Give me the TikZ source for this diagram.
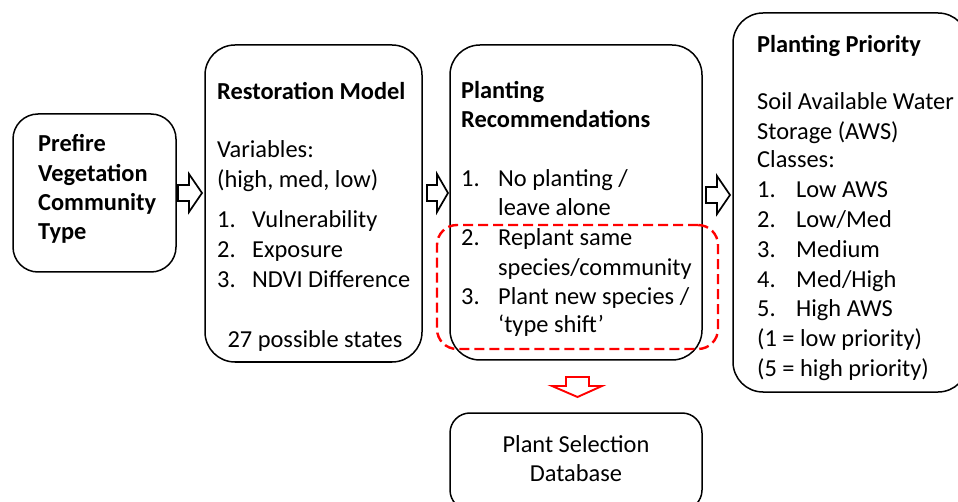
\documentclass[tikz,border=0pt]{standalone}
\usepackage{fontspec}
\setmainfont{Carlito}
\begin{document}
\begin{tikzpicture}[x=1pt,y=-1pt,
  box/.style={draw=black, line width=1.5pt, rounded corners=#1, inner sep=0pt},
  dbox/.style={draw=red, line width=2.4pt, dash pattern=on 10pt off 5pt, rounded corners=#1, inner sep=0pt},
  t/.style={anchor=base west, inner sep=0pt, font=\fontsize{24.4}{29.5}\selectfont},
  tc/.style={anchor=base, inner sep=0pt, font=\fontsize{24.4}{29.5}\selectfont},
  tb/.style={anchor=base west, inner sep=0pt, font=\fontsize{24.4}{29.5}\selectfont\bfseries},
  blk/.style={draw=black, line width=1.7pt, fill=white, line join=miter},
  rblk/.style={draw=red, line width=1.9pt, fill=white, line join=miter}]
\useasboundingbox (0,0) rectangle (958,502);
\fill[white] (0,0) rectangle (958,502);

% boxes
\node[box=25pt, minimum width=163pt, minimum height=158pt] (b1) at (94.5,193) {};
\node[box=30pt, minimum width=217pt, minimum height=317pt] (b2) at (313.5,203.5) {};
\node[box=30pt, minimum width=252pt, minimum height=315pt] (b3) at (576,202.5) {};
\node[box=30pt, minimum width=235pt, minimum height=379pt] (b4) at (850.5,202.5) {};
\node[box=20pt, minimum width=252pt, minimum height=97pt] (b5) at (576,461.5) {};
\node[dbox=20pt, minimum width=281pt, minimum height=124pt] (rd) at (577.5,287) {};

% box 1 text
\node[tb] (p1) at (38,152) {Prefire};
\node[tb] (p2) at (38,182) {Vegetation};
\node[tb] (p3) at (38,211) {Community};
\node[tb] (p4) at (38,240) {Type};

% box 2 text
\node[tb] (r0) at (217,100) {Restoration Model};
\node[t] (r1) at (217,158) {Variables:};
\node[t] (r2) at (217,188) {(high, med, low)};
\node[t] (r3) at (217,228) {\makebox[35pt][l]{1.}Vulnerability};
\node[t] (r4) at (217,258) {\makebox[35pt][l]{2.}Exposure};
\node[t] (r5) at (217,288) {\makebox[35pt][l]{3.}NDVI Difference};
\node[tc] (r6) at (315,348) {27 possible states};

% box 3 text
\node[tb] (c0) at (461,99) {Planting};
\node[tb] (c1) at (461,128) {Recommendations};
\node[t] (c2) at (461,187) {\makebox[37pt][l]{1.}No planting /};
\node[t] (c3) at (498,216) {leave alone};
\node[t] (c4) at (461,246) {\makebox[37pt][l]{2.}Replant same};
\node[t] (c5) at (498,276) {species/community};
\node[t] (c6) at (461,305) {\makebox[37pt][l]{3.}Plant new species /};
\node[t] (c7) at (498,333) {‘type shift’};

% box 4 text
\node[tb] (q0) at (757,53) {Planting Priority};
\node[t] (q1) at (757,110) {Soil Available Water};
\node[t] (q2) at (757,140) {Storage (AWS)};
\node[t] (q3) at (757,168) {Classes:};
\node[t] (q4) at (757,198) {\makebox[39pt][l]{1.}Low AWS};
\node[t] (q5) at (757,228) {\makebox[39pt][l]{2.}Low/Med};
\node[t] (q6) at (757,258) {\makebox[39pt][l]{3.}Medium};
\node[t] (q7) at (757,288) {\makebox[39pt][l]{4.}Med/High};
\node[t] (q8) at (757,317) {\makebox[39pt][l]{5.}High AWS};
\node[t] (q9) at (757,347) {(1 = low priority)};
\node[t] (q10) at (757,377) {(5 = high priority)};

% box 5 text
\node[tc] (d1) at (576,452) {Plant Selection};
\node[tc] (d2) at (576,481) {Database};

% block arrows
\draw[blk] (178,185) -- (189,185) -- (189,174) -- (202,193) -- (189,212) -- (189,201) -- (178,201) -- cycle;
\draw[blk] (427,185) -- (437,185) -- (437,174) -- (448,193) -- (437,212) -- (437,201) -- (427,201) -- cycle;
\draw[blk] (706,187) -- (717,187) -- (717,176) -- (730,195) -- (717,214) -- (717,203) -- (706,203) -- cycle;
\draw[rblk] (566,377) -- (589,377) -- (589,386) -- (602,386) -- (577.5,397) -- (552,386) -- (566,386) -- cycle;
\end{tikzpicture}
\end{document}
